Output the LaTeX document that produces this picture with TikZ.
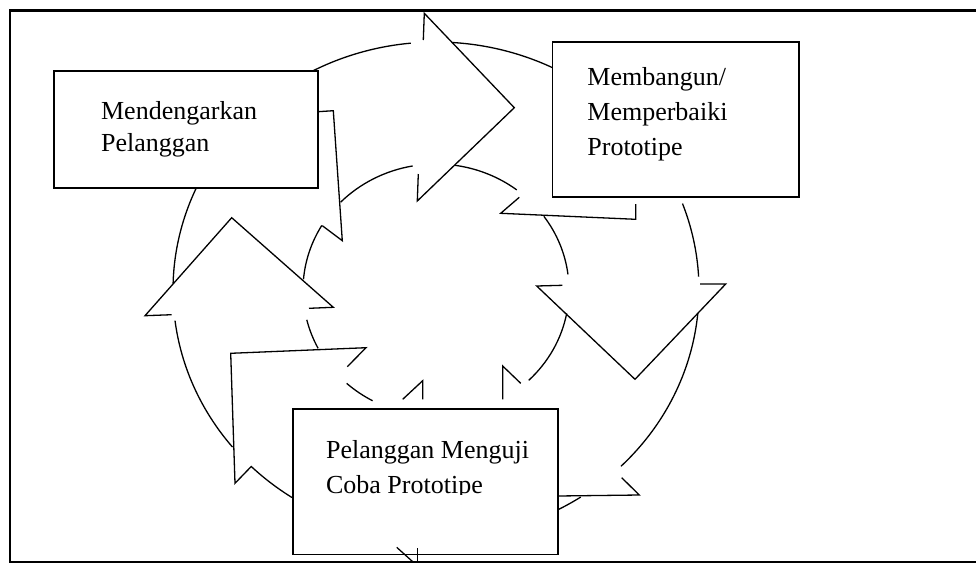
\documentclass[tikz,border=0pt]{standalone}
\usepackage{fontspec}
\setmainfont{Liberation Serif}
\usetikzlibrary{fit}
\tikzset{
    ringline/.style={line width=0.65pt, line join=miter},
    outerring/.style={x radius=263, y radius=248},
    innerring/.style={x radius=133, y radius=126},
    boxnode/.style={draw, fill=white, line width=0.9pt, inner sep=0pt},
    boxtext/.style={anchor=base west, align=left, inner sep=0pt},
}
\begin{document}
\begin{tikzpicture}[x=0.5pt, y=-0.5pt]
    \useasboundingbox (0,0) rectangle (976,563);
    \clip (0,0) rectangle (976,563);
    \draw[line width=1.1pt] (10,10.5) rectangle (1000,562.5);

    \coordinate (mid) at (436,290);

    % outer edge of the ring
    \draw[ringline] ([shift={(242.2:263 and 248)}]mid) arc[outerring, start angle=242.2, end angle=264.5];
    \draw[ringline] ([shift={(273.6:263 and 248)}]mid) arc[outerring, start angle=273.6, end angle=297.3];
    \draw[ringline] ([shift={(339.6:263 and 248)}]mid) arc[outerring, start angle=339.6, end angle=356.9];
    \draw[ringline] ([shift={(5.4:263 and 248)}]mid) arc[outerring, start angle=5.4, end angle=45.3];
    \draw[ringline] ([shift={(56.6:263 and 248)}]mid) arc[outerring, start angle=56.6, end angle=62.3];
    \draw[ringline] ([shift={(134.6:263 and 248)}]mid) arc[outerring, start angle=134.6, end angle=123.2];
    \draw[ringline] ([shift={(204.1:263 and 248)}]mid) arc[outerring, start angle=204.1, end angle=181.5];
    \draw[ringline] ([shift={(172.9:263 and 248)}]mid) arc[outerring, start angle=172.9, end angle=140.7];

    % inner edge of the ring
    \draw[ringline] ([shift={(224.2:133 and 126)}]mid) arc[innerring, start angle=224.2, end angle=259.9];
    \draw[ringline] ([shift={(278.2:133 and 126)}]mid) arc[innerring, start angle=278.2, end angle=307.4];
    \draw[ringline] ([shift={(324.2:133 and 126)}]mid) arc[innerring, start angle=324.2, end angle=352.9];
    \draw[ringline] ([shift={(10.7:133 and 126)}]mid) arc[innerring, start angle=10.7, end angle=45.8];
    \draw[ringline] ([shift={(132.2:133 and 126)}]mid) arc[innerring, start angle=132.2, end angle=118.5];
    \draw[ringline] ([shift={(210.8:133 and 126)}]mid) arc[innerring, start angle=210.8, end angle=184.9];
    \draw[ringline] ([shift={(166.3:133 and 126)}]mid) arc[innerring, start angle=166.3, end angle=152.4];

    % arrow heads
    \draw[ringline] (423.3,40) -- (424.3,13.3) -- (514.3,107.7) -- (417.3,201) -- (418.3,174);
    \draw[ringline] (562.3,285.3) -- (536.7,286) -- (635,379.3) -- (725.7,284) -- (700,284);
    \draw[ringline] (171.7,314.7) -- (145,315.7) -- (231.7,217.7) -- (333.3,307.3) -- (309,308.3);

    % arrow tails
    \draw[ringline] (318,111.7) -- (333.3,110.7) -- (342.3,240.7) -- (322.3,225.7);
    \draw[ringline] (519.3,197.3) -- (500.7,213.3) -- (635.7,219.3) -- (635.7,204);
    \draw[ringline] (347.3,366.7) -- (366,347.7) -- (230.7,353.3) -- (235,483.3) -- (251.7,466);
    \draw[ringline] (621.7,477.7) -- (639.3,495) -- (558,496);
    \draw[ringline] (402.7,399.3) -- (422.7,380.7) -- (422.7,399.3);
    \draw[ringline] (520.7,383.3) -- (502.7,366) -- (502.7,399.3);

    % boxes
    \node[boxnode, fit={(54,71) (318,188)}] (listen) {};
    \node[boxnode, fit={(552.5,42) (799,197)}] (build) {};
    \node[boxnode, fit={(293,409) (557.7,554.5)}] (trial) {};

    \node[boxtext, font=\fontsize{13}{16.2}\selectfont] (listentext)
        at (100.7,151.7) {Mendengarkan\\Pelanggan};
    \node[boxtext, font=\fontsize{13}{17.6}\selectfont] (buildtext)
        at (587,155.7) {Membangun/\\Memperbaiki\\Prototipe};
    \begin{scope}
        \clip (293,409) rectangle (557.7,494);
        \node[boxtext, font=\fontsize{13}{17.5}\selectfont] (trialtext)
            at (325.7,493.3) {Pelanggan Menguji\\Coba Prototipe};
    \end{scope}

    \draw[ringline] (396.7,547.3) -- (412.7,561.7);
    \draw[ringline] (417.3,548.3) -- (417.3,565);
\end{tikzpicture}
\end{document}
